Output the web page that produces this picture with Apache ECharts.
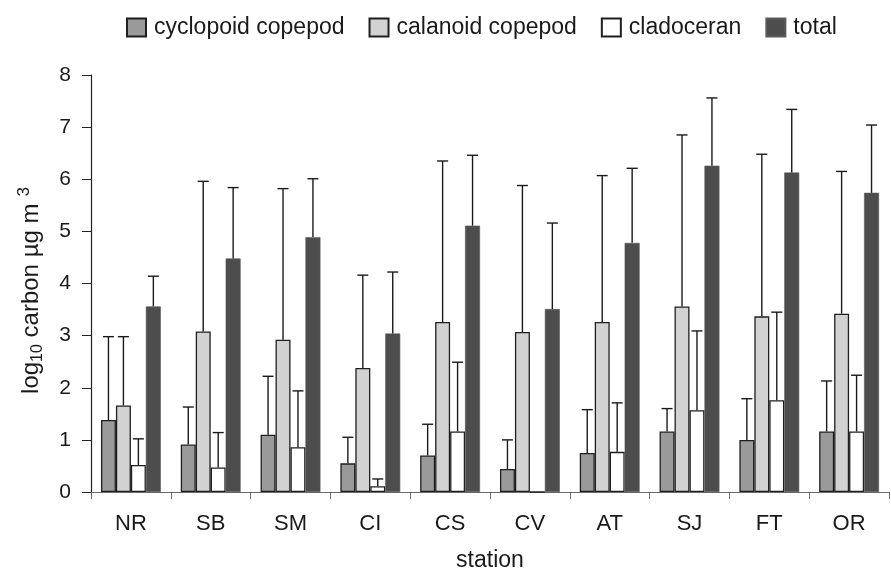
<!DOCTYPE html>
<html>
<head>
<meta charset="utf-8">
<script src="https://cdn.jsdelivr.net/npm/echarts@6/dist/echarts.min.js"></script>
<style>
    html, body { margin: 0; padding: 0; background: #fff; }
    #chart { width: 891px; height: 574px; }
</style>
</head>
<body>
<div id="chart"></div>
<script>
// stations
var categories = ['NR', 'SB', 'SM', 'CI', 'CS', 'CV', 'AT', 'SJ', 'FT', 'OR'];

// means (log10 carbon)
var cyclopoid = [1.38, 0.91, 1.10, 0.55, 0.70, 0.44, 0.75, 1.16, 1.00, 1.16];
var calanoid = [1.66, 3.08, 2.92, 2.38, 3.26, 3.07, 3.26, 3.56, 3.37, 3.42];
var cladoceran = [0.52, 0.47, 0.86, 0.11, 1.16, 0, 0.77, 1.57, 1.76, 1.16];
var total = [3.56, 4.48, 4.89, 3.04, 5.11, 3.51, 4.78, 6.26, 6.13, 5.74];

// top of the error bars
var cyclopoidTop = [2.98, 1.63, 2.22, 1.05, 1.30, 1.00, 1.58, 1.60, 1.79, 2.13];
var calanoidTop = [2.98, 5.96, 5.82, 4.16, 6.35, 5.88, 6.07, 6.85, 6.48, 6.15];
var cladoceranTop = [1.02, 1.14, 1.94, 0.25, 2.49, null, 1.71, 3.09, 3.45, 2.24];
var totalTop = [4.14, 5.84, 6.01, 4.22, 6.46, 5.16, 6.21, 7.56, 7.34, 7.04];

var yTicks = [0, 1, 2, 3, 4, 5, 6, 7, 8];

var seriesNames = ['cyclopoid copepod', 'calanoid copepod', 'cladoceran', 'total'];
var means = [cyclopoid, calanoid, cladoceran, total];
var tops = [cyclopoidTop, calanoidTop, cladoceranTop, totalTop];
var fills = ['#9a9a9a', '#d2d2d2', '#ffffff', '#4d4d4d'];
var borders = ['#1f1f1f', '#1f1f1f', '#1f1f1f', '#5a5a5a'];

var font = 'Liberation Sans, Arial, sans-serif';
var txt = '#1a1a1a';

//error bar data: [category, series, low, high]
var errData = [];
for (var s = 0; s < 4; s++) {
    for (var i = 0; i < categories.length; i++) {
        if (tops[s][i] != null) {
            errData.push([i, s, means[s][i], tops[s][i]]);
        }
    }
}

var series = [];
for (var k = 0; k < 4; k++) {
    series.push({
        name: seriesNames[k],
        type: 'bar',
        data: means[k],
        barGap: '0%',
        barCategoryGap: '25%',
        itemStyle: {
            color: fills[k],
            borderColor: borders[k],
            borderWidth: k == 3 ? 0.6 : 1.3
        }
    });
}

series.push({
    type: 'custom',
    data: errData,
    encode: { x: 0, y: [2, 3] },
    z: 5,
    silent: true,
    renderItem: function (params, api) {
        var cat = api.value(0), s = api.value(1);
        var band = api.size([1, 0])[0];
        var barW = band * 0.75 / 4;
        var cx = api.coord([cat, 0])[0] - band * 0.375 + barW * (s + 0.5);
        var yLow = api.coord([cat, api.value(2)])[1];
        var yHigh = api.coord([cat, api.value(3)])[1];
        var half = 5.5;
        var st = { stroke: '#1a1a1a', lineWidth: 1.4 };
        return {
            type: 'group',
            children: [
                { type: 'line', shape: { x1: cx, y1: yLow, x2: cx, y2: yHigh }, style: st },
                { type: 'line', shape: { x1: cx - half, y1: yHigh, x2: cx + half, y2: yHigh }, style: st }
            ]
        };
    }
});

var myChart = echarts.init(document.getElementById('chart'));
var option = {
    animation: false,
    backgroundColor: '#fff',
    legend: {
        data: seriesNames,
        icon: 'rect',
        left: 121,
        top: 11,
        itemWidth: 19,
        itemHeight: 18,
        itemGap: 24,
        textStyle: { fontFamily: font, fontSize: 23, color: txt, padding: [0, 0, 0, 3] }
    },
    grid: {
        left: 91,
        right: 2,
        top: 75,
        bottom: 82,
        containLabel: false,
        outerBoundsMode: 'none'
    },
    xAxis: {
        type: 'category',
        data: categories,
        name: 'station',
        nameLocation: 'middle',
        nameGap: 57,
        nameTextStyle: { fontFamily: font, fontSize: 23, color: txt },
        axisLine: { lineStyle: { color: '#6a6a6a', width: 1.2 } },
        axisTick: { show: true, length: 7, lineStyle: { color: '#6a6a6a' } },
        axisLabel: { fontFamily: font, fontSize: 22, color: txt, margin: 21 }
    },
    yAxis: {
        type: 'value',
        min: yTicks[0],
        max: yTicks[yTicks.length - 1],
        interval: 1,
        name: '{a|log}{b|10}{a| carbon µg m}{c|3}',
        nameLocation: 'middle',
        nameGap: 45,
        nameTextStyle: {
            fontFamily: font,
            color: txt,
            padding: [0, 14, 0, 0],
            rich: {
                a: { fontFamily: font, fontSize: 24, color: txt, lineHeight: 30 },
                b: { fontFamily: font, fontSize: 16, color: txt, lineHeight: 19, verticalAlign: 'bottom' },
                c: { fontFamily: font, fontSize: 17, color: txt, lineHeight: 15, verticalAlign: 'top', padding: [0, 0, 0, 7] }
            }
        },
        splitLine: { show: false },
        axisLine: { show: true, lineStyle: { color: '#222', width: 1.2 } },
        axisTick: { show: true, length: 9, lineStyle: { color: '#222' } },
        axisLabel: { fontFamily: font, fontSize: 21, color: txt, margin: 20 }
    },
    series: series
};
myChart.setOption(option);
</script>
</body>
</html>
